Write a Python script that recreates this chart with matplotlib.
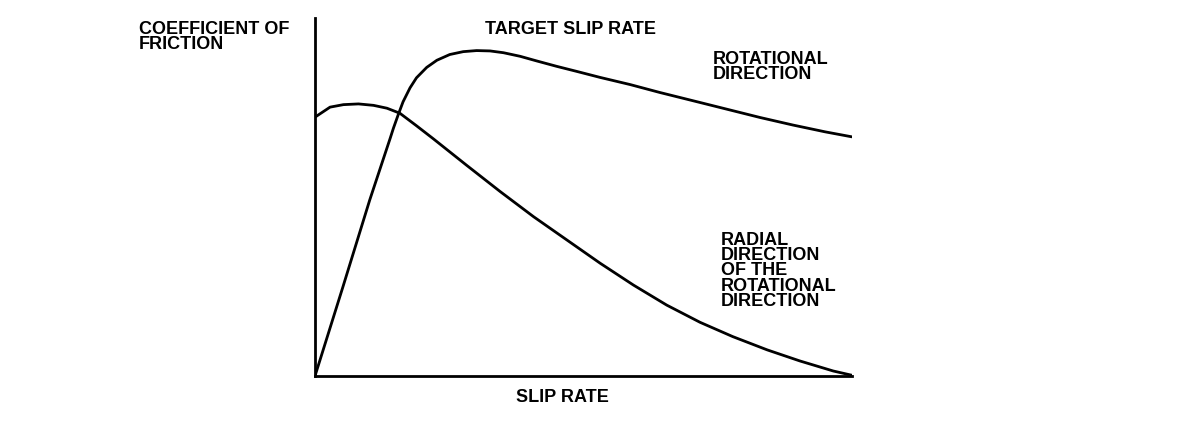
import numpy as np
import matplotlib.pyplot as plt

plt.rcParams['font.family'] = ['Liberation Sans', 'DejaVu Sans']

# slip rate (0-100) vs coefficient of friction (0-100)
rot_x = [0, 5.2, 10.2, 14.0, 14.6, 15.5, 16.4, 17.7, 18.9, 20.8, 22.7, 25.1, 27.6, 30.1, 32.6, 35.1,
         38.2, 41.3, 45.0, 48.7, 53.1, 58.7, 64.2, 71.7, 77.3, 82.9, 89.0, 95.0, 100]
rot_y = [0, 24.9, 49.2, 66.4, 69.2, 73.0, 76.6, 80.5, 83.3, 86.2, 88.2, 89.8, 90.6, 90.9, 90.8, 90.3,
         89.3, 88.0, 86.5, 85.1, 83.4, 81.4, 79.2, 76.4, 74.3, 72.2, 70.1, 68.2, 66.8]

rad_x = [0, 2.8, 5.3, 8.1, 10.9, 13.4, 15.8, 18.9, 22.0, 28.2, 34.5, 40.7, 46.9, 53.1, 59.3, 65.5,
         71.7, 77.8, 84.2, 90.3, 96.5, 100]
rad_y = [72.3, 75.1, 75.8, 76.0, 75.6, 74.8, 73.4, 69.9, 66.3, 58.9, 51.5, 44.5, 38.0, 31.5, 25.4, 19.8,
         15.0, 11.0, 7.3, 4.2, 1.4, 0.2]

W, H = 1184, 434
fig = plt.figure(figsize=(W / 100, H / 100), dpi=100)
ax = fig.add_axes([315 / W, 1 - 376 / H, (852 - 315) / W, (376 - 18) / H])

ax.plot(rot_x, rot_y, color='black', lw=2, solid_capstyle='round', solid_joinstyle='round')
ax.plot(rad_x, rad_y, color='black', lw=2, solid_capstyle='round', solid_joinstyle='round')

ax.set_xlim(0, 100)
ax.set_ylim(0, 100)
ax.set_xticks([])
ax.set_yticks([])
ax.spines['top'].set_visible(False)
ax.spines['right'].set_visible(False)
for s in ['left', 'bottom']:
    ax.spines[s].set_linewidth(2)
    ax.spines[s].set_color('black')


def label(px, py, s):
    fig.text(px / W, 1 - py / H, s, fontsize=13, fontweight='bold',
             ha='left', va='top', linespacing=0.86)


label(139, 21, "COEFFICIENT OF\nFRICTION")
label(485, 21.5, "TARGET SLIP RATE")
label(713, 51, "ROTATIONAL\nDIRECTION")
label(721, 232, "RADIAL\nDIRECTION\nOF THE\nROTATIONAL\nDIRECTION")
label(516, 389.5, "SLIP RATE")

fig.savefig("out.png", dpi=100)
